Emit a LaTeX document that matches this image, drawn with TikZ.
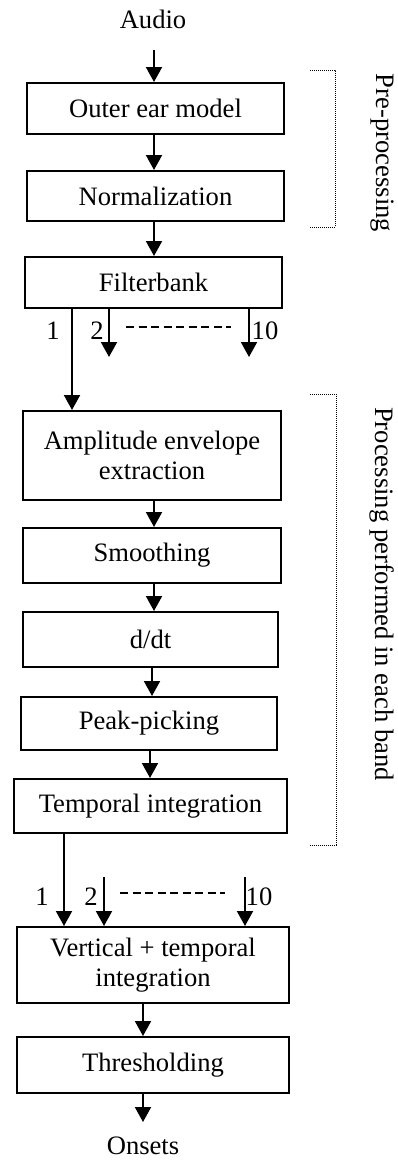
\documentclass[tikz,border=0pt]{standalone}
\usepackage{fontspec}
\setmainfont{Liberation Serif}
\usetikzlibrary{arrows.meta}
\begin{document}
\begin{tikzpicture}[x=1pt,y=-1pt,
  box/.style={draw,line width=2pt,inner sep=0pt,align=center,font=\fontsize{26.6pt}{30pt}\selectfont},
  lbl/.style={inner sep=0pt,align=center,font=\fontsize{26.6pt}{30pt}\selectfont},
  arr/.style={line width=2pt,-{Triangle[width=16pt,length=15pt]}},
  dotb/.style={line width=1pt,dash pattern=on 1pt off 1pt},
  dsh/.style={line width=1.5pt,dash pattern=on 8pt off 4.5pt}]
\useasboundingbox (0,0) rectangle (397,1160);

% boxes
\node[box,minimum width=257pt,minimum height=51pt] (b1) at (155.5,108.5) {Outer ear model};
\node[box,minimum width=257pt,minimum height=50pt] (b2) at (155.5,196) {Normalization};
\node[box,minimum width=257pt,minimum height=51pt] (b3) at (153.5,282.5) {Filterbank};
\node[box,minimum width=258pt,minimum height=89pt] (b4) at (152,455.5) {Amplitude envelope\\extraction};
\node[box,minimum width=258pt,minimum height=55pt] (b5) at (152,555.5) {Smoothing};
\node[box,minimum width=255pt,minimum height=55pt] (b6) at (150.5,639.5) {d/dt};
\node[box,minimum width=256pt,minimum height=53pt] (b7) at (149,723.5) {Peak-picking};
\node[box,minimum width=273pt,minimum height=54pt] (b8) at (150.5,806) {Temporal integration};
\node[box,minimum width=272pt,minimum height=76pt] (b9) at (153,965) {Vertical + temporal\\integration};
\node[box,minimum width=272pt,minimum height=56pt] (b10) at (153,1065) {Thresholding};

% terminals
\node[lbl,anchor=base] (audio) at (153,28) {Audio};
\node[lbl,anchor=base] (on) at (143,1154) {Onsets};

% helper coordinates
\coordinate (a0) at (154,50);
\coordinate (x154) at (154,0);
\coordinate (x152) at (152,0);
\coordinate (x150) at (150,0);
\coordinate (onTip) at (143,1122);
\coordinate (f1) at (72,0);
\coordinate (f2) at (109,357);
\coordinate (f10) at (249,357);
\coordinate (g1) at (64,0);
\coordinate (g2) at (104,877);
\coordinate (g10) at (245,877);

% main arrows
\draw[arr] (a0) -- (b1.north -| a0);
\draw[arr] (b1.south -| x154) -- (b2.north -| x154);
\draw[arr] (b2.south -| x154) -- (b3.north -| x154);
\draw[arr] (b4.south -| x154) -- (b5.north -| x154);
\draw[arr] (b5.south -| x154) -- (b6.north -| x154);
\draw[arr] (b6.south -| x152) -- (b7.north -| x152);
\draw[arr] (b7.south -| x150) -- (b8.north -| x150);
\draw[arr] (b9.south -| onTip) -- (b10.north -| onTip);
\draw[arr] (b10.south -| onTip) -- (onTip);

% filterbank outputs
\draw[arr] (b3.south -| f1) -- (b4.north -| f1);
\draw[arr] (b3.south -| f2) -- (f2);
\draw[arr] (b3.south -| f10) -- (f10);
\node[lbl] (n1a) at (53,331) {1};
\node[lbl] (n2a) at (97,331) {2};
\node[lbl] (n10a) at (265,331) {10};
\coordinate (da0) at (126,327);
\coordinate (da1) at (231,327);
\draw[dsh] (da0) -- (da1);

% temporal integration outputs
\draw[arr] (b8.south -| g1) -- (b9.north -| g1);
\draw[arr] (g2) -- (b9.north -| g2);
\draw[arr] (g10) -- (b9.north -| g10);
\node[lbl] (n1b) at (42,897) {1};
\node[lbl] (n2b) at (91,897) {2};
\node[lbl] (n10b) at (259,897) {10};
\coordinate (db0) at (120,893);
\coordinate (db1) at (225,893);
\draw[dsh] (db0) -- (db1);

% brackets
\coordinate (p0) at (310,70);
\coordinate (p1) at (335,70);
\coordinate (p2) at (335,227);
\coordinate (p3) at (310,227);
\draw[dotb] (p0) -- (p1) -- (p2) -- (p3);
\coordinate (q0) at (310,394);
\coordinate (q1) at (336,394);
\coordinate (q2) at (336,845);
\coordinate (q3) at (310,845);
\draw[dotb] (q0) -- (q1) -- (q2) -- (q3);

\node[lbl,rotate=-90] (pre) at (382,153) {Pre-processing};
\node[lbl,rotate=-90] (proc) at (382,594) {Processing performed in each band};
\end{tikzpicture}
\end{document}
